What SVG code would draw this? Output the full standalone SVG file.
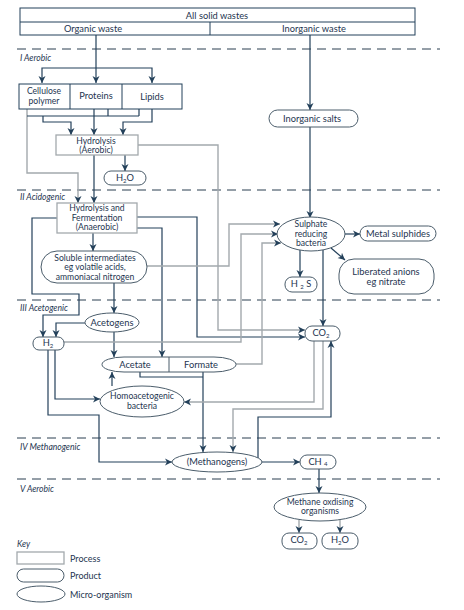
<svg xmlns="http://www.w3.org/2000/svg" width="464" height="610" viewBox="0 0 464 610">
<style>
text{font-family:Lato,"Open Sans",sans-serif;font-size:8.6px;fill:#1e3550;text-anchor:middle}
.big{font-size:9.3px}
.lab{font-style:italic;text-anchor:start}
.ks{text-anchor:start;font-size:9px}
.box{fill:#fff;stroke:#23405a;stroke-width:1}
.proc{fill:#fff;stroke:#a3a9ad;stroke-width:1.3}
.pill{fill:#fff;stroke:#4b5d6b;stroke-width:1}
.dash{stroke:#2b3f50;stroke-width:1;stroke-dasharray:9 6;fill:none}
.d{fill:none;stroke:#23405a;stroke-width:1.2}
.g{fill:none;stroke:#a3a9ad;stroke-width:1.4}
.sub{font-size:6px}
</style>
<defs>
<marker id="a" markerUnits="userSpaceOnUse" markerWidth="8" markerHeight="8" refX="7" refY="4" orient="auto"><path d="M0,0.5 L7,4 L0,7.5 L2,4 z" fill="#23405a"/></marker>
</defs>
<rect width="464" height="610" fill="#fff"/>
<g id="stages">
<line class="dash" x1="17" y1="49" x2="440" y2="49"/>
<line class="dash" x1="17" y1="190" x2="440" y2="190"/>
<line class="dash" x1="17" y1="300" x2="440" y2="300"/>
<line class="dash" x1="17" y1="438" x2="440" y2="438"/>
<line class="dash" x1="17" y1="479" x2="440" y2="479"/>
<text class="lab" x="20" y="61">I  Aerobic</text>
<text class="lab" x="20" y="200">II Acidogenic</text>
<text class="lab" x="20" y="311">III Acetogenic</text>
<text class="lab" x="20" y="450">IV Methanogenic</text>
<text class="lab" x="20" y="492">V Aerobic</text>
</g>
<g id="connectors">
<path class="d" d="M96,35 V83" marker-end="url(#a)"/>
<path class="d" d="M96,68 H42 V83" marker-end="url(#a)"/>
<path class="d" d="M96,68 H152 V83" marker-end="url(#a)"/>
<path class="d" d="M310,35 V110" marker-end="url(#a)"/>
<path class="d" d="M310,127 V218" marker-end="url(#a)"/>
<path class="g" d="M27,109 V173 H78 V203" marker-end="url(#a)"/>
<path class="d" d="M27,116 H139 M108,109 V116 M139,109 V116"/>
<path class="d" d="M43,116 V122 H71 V135" marker-end="url(#a)"/>
<path class="d" d="M94,109 V135" marker-end="url(#a)"/>
<path class="d" d="M152,109 V122 H123 V135" marker-end="url(#a)"/>
<path class="d" d="M125,155 V171" marker-end="url(#a)"/>
<path class="d" d="M94,155 V203" marker-end="url(#a)"/>
<path class="g" d="M138,145 H218 V330 H305" marker-end="url(#a)"/>
<path class="d" d="M93,233 V251" marker-end="url(#a)"/>
<path class="d" d="M57,218 H32 V294 H79 V315 H43 V337" marker-end="url(#a)"/>
<path class="d" d="M137,228 H162 V357" marker-end="url(#a)"/>
<path class="d" d="M137,217 H197 V337 H305" marker-end="url(#a)"/>
<path class="g" d="M147,266 H229 V224 H280" marker-end="url(#a)"/>
<path class="d" d="M114,283 V313" marker-end="url(#a)"/>
<path class="d" d="M114,332 V357" marker-end="url(#a)"/>
<path class="d" d="M85,323 H56 V337" marker-end="url(#a)"/>
<path class="g" d="M64,342 H241 V234 H278" marker-end="url(#a)"/>
<path class="g" d="M236,364 H262 V243 H281" marker-end="url(#a)"/>
<path class="d" d="M345,234 H360" marker-end="url(#a)"/>
<path class="d" d="M331,248 L345,260" marker-end="url(#a)"/>
<path class="d" d="M300,249 V277" marker-end="url(#a)"/>
<path class="d" d="M323,250 V326" marker-end="url(#a)"/>
<path class="d" d="M140,372 V377 H203"/>
<path class="d" d="M203,372 V452" marker-end="url(#a)"/>
<path class="d" d="M112,386 V372" marker-end="url(#a)"/>
<path class="d" d="M55,350 V399 H100" marker-end="url(#a)"/>
<path class="d" d="M48,350 V415 H99 V462 H172" marker-end="url(#a)"/>
<path class="g" d="M314,341 V402 H184" marker-end="url(#a)"/>
<path class="g" d="M323,341 V409 H233 V452" marker-end="url(#a)"/>
<path class="d" d="M258,458 V417 H331 V341" marker-end="url(#a)"/>
<path class="d" d="M262,462 H300" marker-end="url(#a)"/>
<path class="d" d="M319,469 V493" marker-end="url(#a)"/>
<path class="g" d="M299,520 V533" marker-end="url(#a)"/>
<path class="g" d="M340,520 V533" marker-end="url(#a)"/>
</g>
<g id="wastes">
<rect class="box" x="20" y="8" width="395" height="27"/>
<line class="box" x1="20" y1="22" x2="415" y2="22"/>
<line class="box" x1="210" y1="22" x2="210" y2="35"/>
<text class="big" x="217" y="18.5">All solid wastes</text>
<text class="big" x="93" y="31.8">Organic waste</text>
<text class="big" x="314" y="31.8">Inorganic waste</text>
</g>
<g id="substrates">
<rect class="box" x="19" y="84" width="163" height="25"/>
<line class="box" x1="70" y1="84" x2="70" y2="109"/>
<line class="box" x1="122" y1="84" x2="122" y2="109"/>
<text x="44" y="93.5">Cellulose</text>
<text x="44" y="103.5">polymer</text>
<text class="big" x="96" y="99">Proteins</text>
<text class="big" x="152" y="100">Lipids</text>
</g>
<g id="hydrolysis-aerobic">
<rect class="proc" x="56" y="135" width="82" height="20"/>
<text x="96" y="143.5">Hydrolysis</text>
<text x="96" y="153.3">(Aerobic)</text>
</g>
<g id="h2o-1">
<rect class="pill" x="104" y="171" width="42" height="14" rx="7"/>
<text class="big" x="125" y="181">H<tspan class="sub" dy="2">2</tspan><tspan dy="-2">O</tspan></text>
</g>
<g id="hydrolysis-fermentation">
<rect class="proc" x="57" y="203" width="80" height="30"/>
<text x="97" y="211">Hydrolysis and</text>
<text x="97" y="220.7">Fermentation</text>
<text x="97" y="230.4">(Anaerobic)</text>
</g>
<g id="soluble">
<rect class="pill" x="41" y="251" width="106" height="32" rx="16"/>
<text x="95" y="260.5">Soluble intermediates</text>
<text x="95" y="270.2">eg volatile acids,</text>
<text x="95" y="279.9">ammoniacal nitrogen</text>
</g>
<g id="inorganic-salts">
<rect class="pill" x="269" y="110" width="89" height="17" rx="8.5"/>
<text class="big" x="312" y="121.5">Inorganic salts</text>
</g>
<g id="sulphate">
<ellipse class="pill" cx="311" cy="234" rx="34" ry="17"/>
<text x="311" y="227">Sulphate</text>
<text x="311" y="236.7">reducing</text>
<text x="311" y="246.4">bacteria</text>
</g>
<g id="metal-sulphides">
<rect class="pill" x="360" y="226" width="76" height="15" rx="7.5"/>
<text class="big" x="398" y="236.8">Metal sulphides</text>
</g>
<g id="liberated">
<rect class="pill" x="339" y="259" width="95" height="35" rx="15"/>
<text class="big" x="386" y="274.5">Liberated anions</text>
<text class="big" x="386" y="284.8">eg nitrate</text>
</g>
<g id="h2s">
<rect class="pill" x="285" y="277" width="32" height="15" rx="7"/>
<text class="big" x="301" y="287">H <tspan class="sub" dy="2">2</tspan><tspan dy="-2"> S</tspan></text>
</g>
<g id="acetogens">
<ellipse class="pill" cx="112" cy="322.5" rx="27" ry="9.5"/>
<text class="big" x="112" y="325.7">Acetogens</text>
</g>
<g id="h2">
<rect class="pill" x="33" y="337" width="31" height="13" rx="6"/>
<text class="big" x="48" y="346">H<tspan class="sub" dy="2">2</tspan></text>
</g>
<g id="co2-1">
<rect class="pill" x="305" y="326" width="35" height="15" rx="7"/>
<text class="big" x="321" y="336">CO<tspan class="sub" dy="2">2</tspan></text>
</g>
<g id="acetate-formate">
<rect class="pill" x="102" y="357" width="134" height="15" rx="22" ry="7.5"/>
<line class="pill" x1="169" y1="357" x2="169" y2="372"/>
<text class="big" x="135" y="367.7">Acetate</text>
<text class="big" x="201" y="367.7">Formate</text>
</g>
<g id="homoacetogenic">
<ellipse class="pill" cx="142" cy="401.5" rx="42" ry="15.5"/>
<text x="142" y="398.5">Homoacetogenic</text>
<text x="142" y="408.5">bacteria</text>
</g>
<g id="methanogens">
<ellipse class="pill" cx="217" cy="462" rx="45" ry="10"/>
<text class="big" x="217" y="465.2">(Methanogens)</text>
</g>
<g id="ch4">
<rect class="pill" x="300" y="455" width="36" height="14" rx="7"/>
<text class="big" x="318" y="465">CH <tspan class="sub" dy="1">4</tspan></text>
</g>
<g id="methane-oxidising">
<ellipse class="pill" cx="320" cy="507" rx="46" ry="14"/>
<text x="320" y="504.5">Methane oxdising</text>
<text x="320" y="514.3">organisms</text>
</g>
<g id="co2-2">
<rect class="pill" x="282" y="533" width="35" height="16" rx="7"/>
<text class="big" x="299" y="543.3">CO<tspan class="sub" dy="2">2</tspan></text>
</g>
<g id="h2o-2">
<rect class="pill" x="322" y="533" width="36" height="16" rx="7"/>
<text class="big" x="340" y="543.3">H<tspan class="sub" dy="2">2</tspan><tspan dy="-2">O</tspan></text>
</g>
<g id="key">
<text class="lab" x="17" y="547">Key</text>
<rect class="proc" x="17" y="552" width="47" height="12"/>
<text class="ks" x="70" y="562">Process</text>
<rect class="pill" x="17" y="569" width="47" height="13" rx="6.5"/>
<text class="ks" x="70" y="578.5">Product</text>
<ellipse class="pill" cx="41" cy="594" rx="24" ry="8"/>
<text class="ks" x="70" y="597.5">Micro-organism</text>
</g>
</svg>
